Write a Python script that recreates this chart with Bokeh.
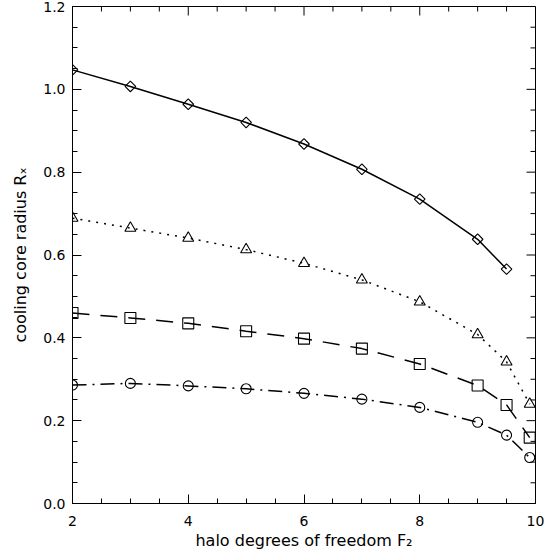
import math
import numpy as np
from bokeh.plotting import figure
from bokeh.models import Range1d, LinearAxis, FixedTicker, NumeralTickFormatter
from bokeh.embed import file_html
from bokeh.resources import INLINE

# ---- data ----
x_full = [2, 3, 4, 5, 6, 7, 8, 9, 9.5, 9.9]
x_diamond = [2, 3, 4, 5, 6, 7, 8, 9, 9.5]
y_diamond = [1.047, 1.007, 0.964, 0.920, 0.868, 0.807, 0.735, 0.638, 0.566]
y_triangle = [0.689, 0.665, 0.641, 0.613, 0.580, 0.540, 0.487, 0.408, 0.342, 0.240]
y_square = [0.460, 0.448, 0.435, 0.416, 0.398, 0.374, 0.337, 0.285, 0.238, 0.159]
y_circle = [0.286, 0.290, 0.284, 0.277, 0.266, 0.252, 0.232, 0.196, 0.165, 0.111]

x_ticks = [2, 4, 6, 8, 10]
y_ticks = [0.0, 0.2, 0.4, 0.6, 0.8, 1.0, 1.2]
x_label = "halo degrees of freedom F\u2082"
y_label = "cooling core radius R\u2093"

x_lo, x_hi = 2, 10
y_lo, y_hi = 0.0, 1.2

# ---- layout ----
W, H = 553, 555
L, R, T, B = 72, 18, 6, 52
FW, FH = W - L - R, H - T - B
FONT = "DejaVu Sans"
MAJ, MIN = 9, 5

x_minor = [round(v, 3) for v in np.arange(x_lo, x_hi + 1e-9, 0.5)]
y_minor = [round(v, 3) for v in np.arange(y_lo, y_hi + 1e-9, 0.05)]

p = figure(width=W, height=H, x_range=Range1d(x_lo, x_hi), y_range=Range1d(y_lo, y_hi),
           output_backend="svg", toolbar_location=None,
           min_border_left=L, min_border_right=R, min_border_top=T, min_border_bottom=B,
           x_axis_type=None, y_axis_type=None)
p.background_fill_color = "white"
p.border_fill_color = "white"
p.outline_line_color = "black"
p.outline_line_width = 1
p.xgrid.visible = False
p.ygrid.visible = False


def style_axis(ax, standoff):
    ax.major_tick_in = MAJ
    ax.major_tick_out = 0
    ax.minor_tick_in = MIN
    ax.minor_tick_out = 0
    ax.axis_line_color = "black"
    ax.major_tick_line_color = "black"
    ax.minor_tick_line_color = "black"
    ax.axis_line_width = 1
    ax.major_label_text_font = FONT
    ax.major_label_text_font_size = "14px"
    ax.major_label_text_color = "black"
    ax.major_label_standoff = standoff
    ax.axis_label_text_font = FONT
    ax.axis_label_text_font_size = "16px"
    ax.axis_label_text_font_style = "normal"
    ax.axis_label_text_color = "black"


xb = LinearAxis(ticker=FixedTicker(ticks=x_ticks, minor_ticks=x_minor),
                formatter=NumeralTickFormatter(format="0"), axis_label=x_label)
style_axis(xb, 12)
xb.axis_label_standoff = 2
p.add_layout(xb, "below")

yl = LinearAxis(ticker=FixedTicker(ticks=y_ticks, minor_ticks=y_minor),
                formatter=NumeralTickFormatter(format="0.0"), axis_label=y_label)
style_axis(yl, 7)
yl.axis_label_standoff = 10
p.add_layout(yl, "left")

# mirrored inward ticks on the top and right edges of the frame
dy_px = (y_hi - y_lo) / FH
dx_px = (x_hi - x_lo) / FW
top_len = [MAJ if v in x_ticks else MIN for v in x_minor]
p.segment(x0=x_minor, y0=[y_hi] * len(x_minor), x1=x_minor,
          y1=[y_hi - n * dy_px for n in top_len], line_color="black", line_width=1)
right_len = [MAJ if any(abs(v - t) < 1e-6 for t in y_ticks) else MIN for v in y_minor]
p.segment(x0=[x_hi] * len(y_minor), y0=y_minor, x1=[x_hi - n * dx_px for n in right_len],
          y1=y_minor, line_color="black", line_width=1)

# ---- series ----
p.line(x_diamond, y_diamond, line_color="black", line_width=1.5)
p.scatter(x_diamond, y_diamond, marker="square", angle=math.pi / 4, size=7.5,
          fill_color=None, line_color="black", line_width=1.1)

p.line(x_full, y_triangle, line_color="black", line_width=1.5, line_dash="2 6")
p.scatter(x_full, y_triangle, marker="triangle", size=11,
          fill_color=None, line_color="black", line_width=1.1)

p.line(x_full, y_square, line_color="black", line_width=1.5, line_dash="17 11")
p.scatter(x_full, y_square, marker="square", size=11,
          fill_color=None, line_color="black", line_width=1.1)

p.line(x_full, y_circle, line_color="black", line_width=1.5, line_dash="14 6 2 6")
p.scatter(x_full, y_circle, marker="circle", size=10,
          fill_color=None, line_color="black", line_width=1.1)

open("out.html", "w").write(file_html(p, INLINE))
